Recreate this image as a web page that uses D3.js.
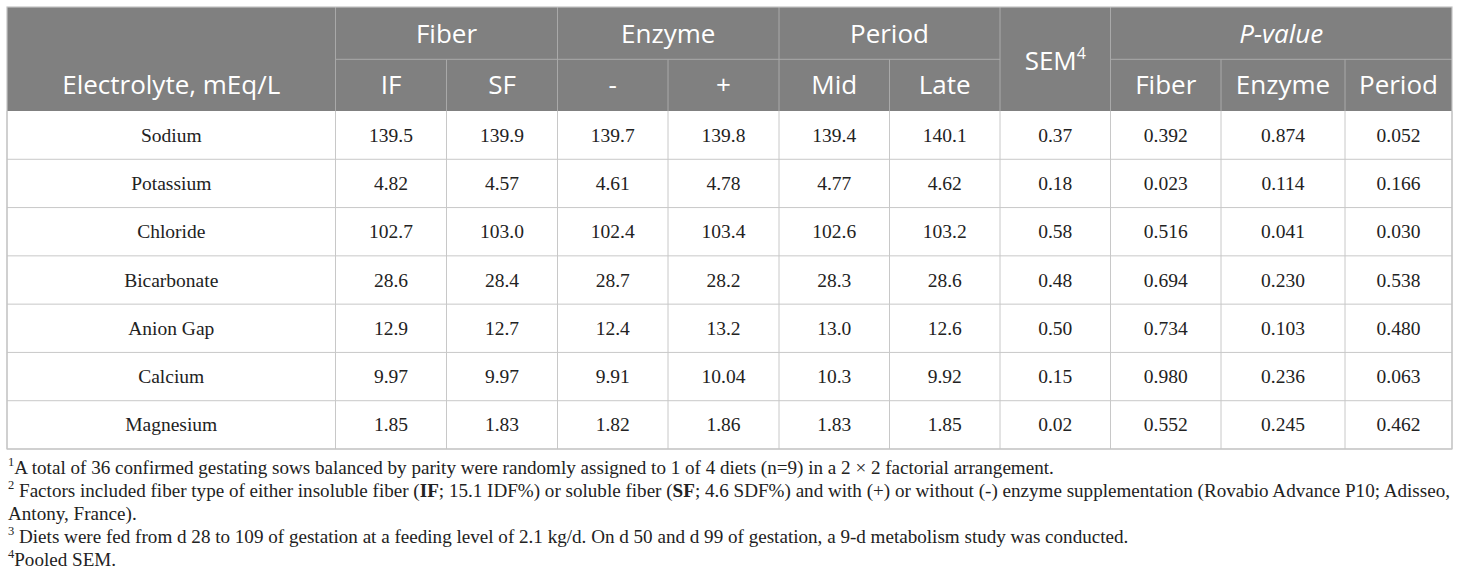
<!DOCTYPE html>
<html>
<head>
<meta charset="utf-8">
<script src="https://cdn.jsdelivr.net/npm/d3@7"></script>
<style>
	body { margin: 0; background: #fff; }
	svg { display: block; }
</style>
</head>
<body>
<svg id="tbl" width="1460" height="581"></svg>
<script>
// table values, one array per column
const electrolytes = ["Sodium", "Potassium", "Chloride", "Bicarbonate", "Anion Gap", "Calcium", "Magnesium"];
const fiberIF     = ["139.5", "4.82", "102.7", "28.6", "12.9", "9.97", "1.85"];
const fiberSF     = ["139.9", "4.57", "103.0", "28.4", "12.7", "9.97", "1.83"];
const enzymeMinus = ["139.7", "4.61", "102.4", "28.7", "12.4", "9.91", "1.82"];
const enzymePlus  = ["139.8", "4.78", "103.4", "28.2", "13.2", "10.04", "1.86"];
const periodMid   = ["139.4", "4.77", "102.6", "28.3", "13.0", "10.3", "1.83"];
const periodLate  = ["140.1", "4.62", "103.2", "28.6", "12.6", "9.92", "1.85"];
const sem         = ["0.37", "0.18", "0.58", "0.48", "0.50", "0.15", "0.02"];
const pFiber      = ["0.392", "0.023", "0.516", "0.694", "0.734", "0.980", "0.552"];
const pEnzyme     = ["0.874", "0.114", "0.041", "0.230", "0.103", "0.236", "0.245"];
const pPeriod     = ["0.052", "0.166", "0.030", "0.538", "0.480", "0.063", "0.462"];

const groupHeaders = ["Fiber", "Enzyme", "Period"];
const subHeaders = ["IF", "SF", "-", "+", "Mid", "Late"];
const pHeaders = ["Fiber", "Enzyme", "Period"];

const svg = d3.select('#tbl');

// layout
const tblLeft = 7, tblTop = 7, headMid = 59.3, headBottom = 111, tblBottom = 449;
const colWidths = [328.5, 111, 111, 110.5, 111, 110.5, 110.5, 110.5, 110.5, 124, 107];
const edges = [tblLeft].concat(Array.from(d3.cumsum(colWidths), d => tblLeft + d));
const tblRight = edges[edges.length - 1];
const colCenter = i => (edges[i] + edges[i + 1]) / 2;

const y = d3.scaleBand().domain(electrolytes).range([headBottom, tblBottom]);

const columns = [fiberIF, fiberSF, enzymeMinus, enzymePlus, periodMid, periodLate, sem, pFiber, pEnzyme, pPeriod];

const SANS = "'Open Sans', sans-serif";
const SERIF = "'Liberation Serif', 'Times New Roman', serif";
const headLine = '#a9a9a9';
const bodyLine = '#c8c8c8';
const textColor = '#222';

// header background
svg.append('rect')
	.attr('x', tblLeft).attr('y', tblTop)
	.attr('width', tblRight - tblLeft).attr('height', headBottom - tblTop)
	.attr('fill', '#808080');

// header lines
const groupEdges = [1, 3, 5, 7, 8]; // full height
const innerEdges = [2, 4, 6, 9, 10]; // lower header row only
groupEdges.forEach(i => {
	svg.append('line')
		.attr('x1', edges[i]).attr('x2', edges[i])
		.attr('y1', tblTop).attr('y2', headBottom)
		.attr('stroke', headLine).attr('stroke-width', 1);
});
innerEdges.forEach(i => {
	svg.append('line')
		.attr('x1', edges[i]).attr('x2', edges[i])
		.attr('y1', headMid).attr('y2', headBottom)
		.attr('stroke', headLine).attr('stroke-width', 1);
});
[[1, 7], [8, 11]].forEach(([a, b]) => {
	svg.append('line')
		.attr('x1', edges[a]).attr('x2', edges[b])
		.attr('y1', headMid).attr('y2', headMid)
		.attr('stroke', headLine).attr('stroke-width', 1);
});

// header text
const head = svg.append('g')
	.attr('fill', '#fff')
	.attr('font-family', SANS)
	.attr('font-size', 26)
	.attr('text-anchor', 'middle');

groupHeaders.forEach((t, i) => {
	head.append('text')
		.attr('x', (edges[1 + 2 * i] + edges[3 + 2 * i]) / 2)
		.attr('y', headMid - 16.6)
		.text(t);
});
head.append('text')
	.attr('x', (edges[8] + edges[11]) / 2)
	.attr('y', headMid - 16.6)
	.attr('font-style', 'italic')
	.text('P-value');

subHeaders.forEach((t, i) => {
	head.append('text')
		.attr('x', colCenter(i + 1))
		.attr('y', headBottom - 16.7)
		.text(t);
});
pHeaders.forEach((t, i) => {
	head.append('text')
		.attr('x', colCenter(i + 8))
		.attr('y', headBottom - 16.7)
		.text(t);
});
head.append('text')
	.attr('x', colCenter(0))
	.attr('y', headBottom - 16.7)
	.text('Electrolyte, mEq/L');

const semHead = head.append('text')
	.attr('x', colCenter(7))
	.attr('y', (tblTop + headBottom) / 2 + 10.5);
semHead.append('tspan').text('SEM');
semHead.append('tspan').attr('font-size', 16).attr('dy', -11).text('4');

// body grid
electrolytes.forEach(e => {
	svg.append('line')
		.attr('x1', tblLeft).attr('x2', tblRight)
		.attr('y1', y(e) + y.bandwidth()).attr('y2', y(e) + y.bandwidth())
		.attr('stroke', bodyLine).attr('stroke-width', 1);
});
edges.forEach(x => {
	svg.append('line')
		.attr('x1', x).attr('x2', x)
		.attr('y1', headBottom).attr('y2', tblBottom)
		.attr('stroke', bodyLine).attr('stroke-width', 1);
});
svg.append('rect')
	.attr('x', tblLeft).attr('y', tblTop)
	.attr('width', tblRight - tblLeft).attr('height', tblBottom - tblTop)
	.attr('fill', 'none')
	.attr('stroke', '#c4c4c4').attr('stroke-width', 1.2);

// body text
const body = svg.append('g')
	.attr('fill', textColor)
	.attr('font-family', SERIF)
	.attr('font-size', 19.5)
	.attr('text-anchor', 'middle');

body.selectAll('text.lab')
	.data(electrolytes)
	.join('text')
	.attr('class', 'lab')
	.attr('x', colCenter(0))
	.attr('y', d => y(d) + y.bandwidth() / 2 + 6.5)
	.text(d => d);

columns.forEach((col, ci) => {
	body.selectAll('text.c' + ci)
		.data(col)
		.join('text')
		.attr('class', 'c' + ci)
		.attr('x', colCenter(ci + 1))
		.attr('y', (d, i) => y(electrolytes[i]) + y.bandwidth() / 2 + 6.5)
		.text(d => d);
});

// footnotes
const notes = svg.append('g')
	.attr('fill', textColor)
	.attr('font-family', SERIF)
	.attr('font-size', 19.1);

function note(yy, parts) {
	const t = notes.append('text').attr('x', 8).attr('y', yy);
	parts.forEach(p => {
		const s = t.append('tspan').text(p.t);
		if (p.sup) { s.attr('font-size', 12.5).attr('dy', -8); }
		if (p.down) { s.attr('dy', 8); }
		if (p.b) { s.attr('font-weight', 'bold'); }
	});
	return t;
}

note(474, [{t: '1', sup: true}, {t: 'A total of 36 confirmed gestating sows balanced by parity were randomly assigned to 1 of 4 diets (n=9) in a 2 \u00d7 2 factorial arrangement.', down: true}]);
const n2 = note(497, [{t: '2', sup: true}, {t: ' Factors included fiber type of either insoluble fiber (', down: true}, {t: 'IF', b: true},
	{t: '; 15.1 IDF%) or soluble fiber ('}, {t: 'SF', b: true},
	{t: '; 4.6 SDF%) and with (+) or without (-) enzyme supplementation (Rovabio Advance P10; Adisseo,'}]);
note(520, [{t: 'Antony, France).'}]);
note(543, [{t: '3', sup: true}, {t: ' Diets were fed from d 28 to 109 of gestation at a feeding level of 2.1 kg/d. On d 50 and d 99 of gestation, a 9-d metabolism study was conducted.', down: true}]);
note(566, [{t: '4', sup: true}, {t: 'Pooled SEM.', down: true}]);

// justify the wrapped footnote line to the table width
const natural = n2.node().getComputedTextLength();
const spaces = (n2.text().match(/ /g) || []).length;
if (spaces > 0) {
	n2.attr('word-spacing', (tblRight - 10 - natural) / spaces);
}
</script>
</body>
</html>
